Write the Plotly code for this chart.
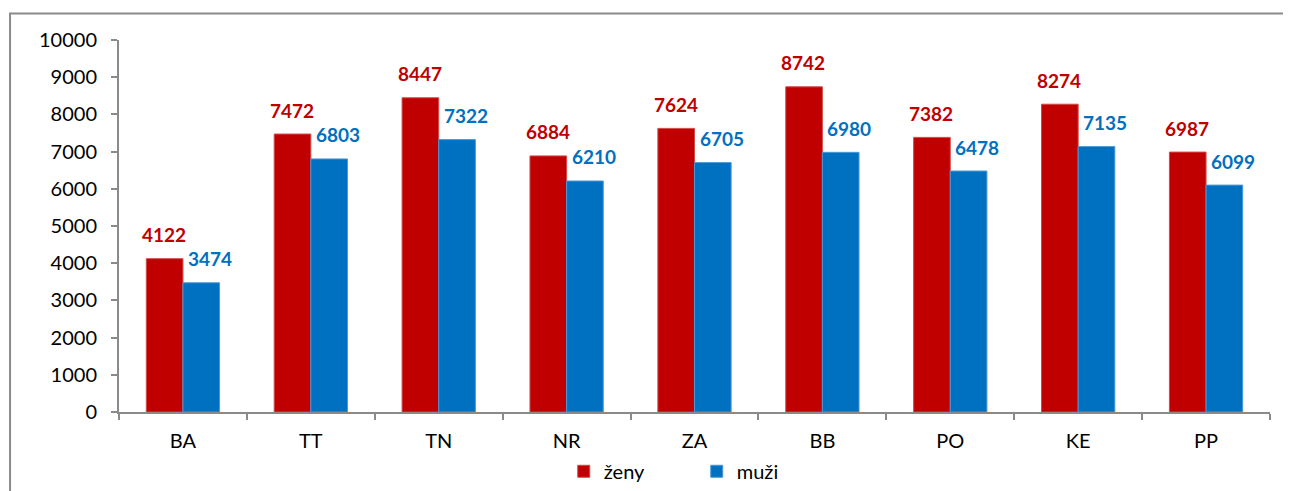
import plotly.graph_objects as go

categories = ["BA", "TT", "TN", "NR", "ZA", "BB", "PO", "KE", "PP"]
zeny = [4122, 7472, 8447, 6884, 7624, 8742, 7382, 8274, 6987]
muzi = [3474, 6803, 7322, 6210, 6705, 6980, 6478, 7135, 6099]
series_names = ["ženy", "muži"]
y_ticks = list(range(0, 10001, 1000))
y_tick_labels = [str(v) for v in y_ticks]

RED = "#C00000"
BLUE = "#0070C0"
FONT = "Lato"

fig = go.Figure()
fig.add_trace(go.Bar(x=categories, y=zeny, name=series_names[0],
                     marker=dict(color=RED, line=dict(color="#d24a4a", width=1))))
fig.add_trace(go.Bar(x=categories, y=muzi, name=series_names[1],
                     marker=dict(color=BLUE, line=dict(color="#4a98d6", width=1))))

annotations = []
for c, v in zip(categories, zeny):
    annotations.append(dict(x=c, y=v, text=str(v), showarrow=False, xref="x", yref="y",
                            xshift=-19, yshift=24, yanchor="middle",
                            font=dict(family=FONT, size=19, color=RED, weight="bold")))
for c, v in zip(categories, muzi):
    annotations.append(dict(x=c, y=v, text=str(v), showarrow=False, xref="x", yref="y",
                            xshift=27, yshift=24, yanchor="middle",
                            font=dict(family=FONT, size=19, color=BLUE, weight="bold")))

# figure coordinates (page body has an 8px margin)
W, H = 1283, 483
L, T = 111, 31.5
R = W - 1262.5
B = H - 403.7
pw = W - L - R
ph = H - T - B

fig.update_layout(
    width=W, height=H,
    margin=dict(l=L, r=R, t=T, b=B, pad=0, autoexpand=False),
    paper_bgcolor="white", plot_bgcolor="white",
    barmode="group", bargap=0.427, bargroupgap=0,
    font=dict(family=FONT, size=20, color="#000000"),
    annotations=annotations,
    showlegend=True,
    legend=dict(orientation="h", x=(689 - L) / pw, xanchor="center",
                y=(H - B - 463) / ph, yanchor="middle",
                font=dict(family=FONT, size=20, color="#000000"),
                entrywidth=88, bgcolor="rgba(0,0,0,0)"),
    shapes=[dict(type="rect", xref="paper", yref="paper",
                 x0=(2 - L) / pw, x1=1.2, y0=-0.5, y1=(H - B - 5) / ph,
                 line=dict(color="#8a8a8a", width=2), fillcolor="rgba(0,0,0,0)", layer="below")],
)
fig.update_xaxes(
    type="category", showline=True, linecolor="#8a8a8a", linewidth=2,
    ticks="outside", ticklen=6, tickwidth=2, tickcolor="#8a8a8a", tickson="boundaries",
    showgrid=False, ticklabelstandoff=10, automargin=False,
    tickfont=dict(family=FONT, size=20, color="#000000"),
)
fig.update_yaxes(
    range=[0, 10000], tickvals=y_ticks, ticktext=y_tick_labels,
    showline=True, linecolor="#8a8a8a", linewidth=2,
    ticks="outside", ticklen=6, tickwidth=2, tickcolor="#8a8a8a",
    showgrid=False, zeroline=False, ticklabelstandoff=10, automargin=False,
    tickfont=dict(family=FONT, size=20, color="#000000"),
)

fig.write_html("out.html")
